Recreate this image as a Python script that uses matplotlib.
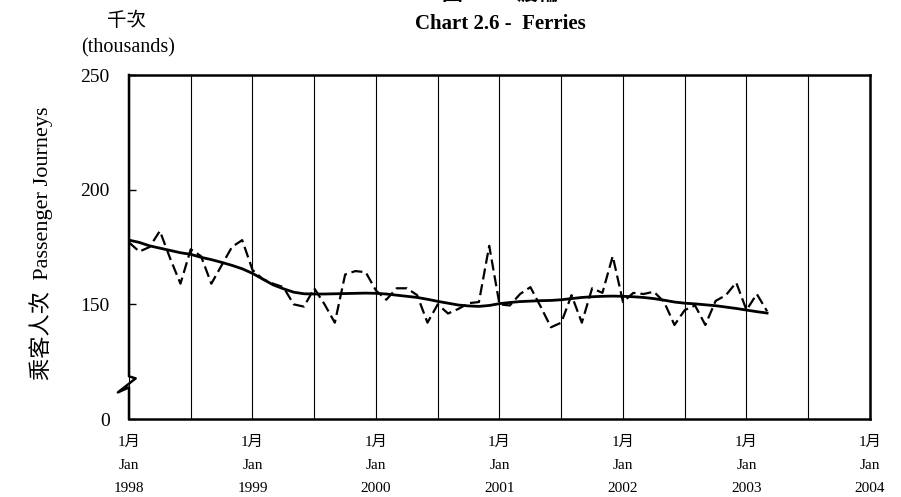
import matplotlib
matplotlib.use('Agg')
import matplotlib.pyplot as plt
import numpy as np
from matplotlib.transforms import blended_transform_factory

plt.rcParams['font.family'] = ['Liberation Serif', 'Noto Sans CJK TC']

# monthly passenger journeys (thousands), Jan 1998 - Mar 2003
ferries = [177, 173, 175, 182, 170, 159, 174, 171, 159, 167, 175, 178,
           165, 161, 159, 157.5, 150, 149, 157, 150, 142, 163, 164.5, 164,
           156, 152, 157, 157, 154, 142, 150, 146, 148, 150.5, 151, 175.5,
           150, 149.5, 154.5, 157.5, 149, 140, 142, 154, 142, 157, 155, 171,
           151, 155, 154.5, 155.5, 151, 141, 147.5, 149.5, 141, 151.5, 154, 159.5,
           147.5, 154.5, 147]
# trend line
trend = [178, 177, 175.5, 174.5, 173.5, 172.5, 171.8, 170.5, 169.5, 168.3, 167, 165.5,
         163.5, 161, 158.5, 156.8, 155.3, 154.6, 154.5, 154.5, 154.6, 154.7, 154.8, 154.9,
         154.8, 154.5, 154, 153.5, 153, 152.2, 151.3, 150.5, 149.7, 149.3, 149.1, 149.5,
         150.3, 150.8, 151.2, 151.4, 151.6, 151.7, 152, 152.5, 153, 153.3, 153.5, 153.6,
         153.5, 153.3, 153, 152.5, 151.8, 151, 150.5, 150.2, 149.8, 149.4, 148.8, 148.2,
         147.5, 146.8, 146.2]
years = ['1998', '1999', '2000', '2001', '2002', '2003', '2004']
ytick_vals = [100, 150, 200, 250]
ytick_labels = ['0', '150', '200', '250']

x = np.arange(len(ferries))

fig = plt.figure(figsize=(9.01, 4.97), dpi=100)
ax = fig.add_axes([129/901, 78/497, 741/901, 344/497])

ax.plot(x, ferries, color='black', lw=1.6, ls=(0, (5, 2.2)))
ax.plot(x, trend, color='black', lw=2.0)

ax.set_xlim(0, 72)
ax.set_ylim(100, 250)

ax.set_xticks(range(0, 73, 12))
ax.set_xticklabels(['1月\nJan\n' + y for y in years], fontsize=11, linespacing=2.0)
ax.set_xticks(range(6, 72, 12), minor=True)
ax.grid(True, which='both', axis='x', color='black', lw=0.8)
ax.tick_params(axis='x', which='both', length=0, pad=12)

ax.set_yticks(ytick_vals)
ax.set_yticklabels(ytick_labels)
ax.tick_params(axis='y', direction='in', length=5, width=1, pad=14, labelsize=14)

for s in ['top', 'right', 'bottom']:
    ax.spines[s].set_linewidth(1.8)
ax.spines['left'].set_visible(False)

# left axis with break mark
trans = blended_transform_factory(ax.transAxes, ax.transData)
ax.plot([0, 0, 0.009, -0.015, 0, 0], [250, 118.6, 117.7, 111.6, 113.8, 100],
        transform=trans, color='black', lw=1.8, clip_on=False)

fig.text(500/901, 1 + 4/497, '圖 2.6 -  渡輪', ha='center', va='center',
         fontsize=15, fontweight='bold')
fig.text(500/901, 1 - 24/497, 'Chart 2.6 -  Ferries', ha='center', va='center',
         fontsize=15, fontweight='bold')
fig.text(127/901, 1 - 21/497, '千次', ha='center', va='center', fontsize=14)
fig.text(128/901, 1 - 48/497, '(thousands)', ha='center', va='center', fontsize=14.5)
fig.text(41/901, 1 - 243/497, '乘客人次  Passenger Journeys', rotation=90,
         ha='center', va='center', fontsize=16)

fig.savefig('out.png', dpi=100)
